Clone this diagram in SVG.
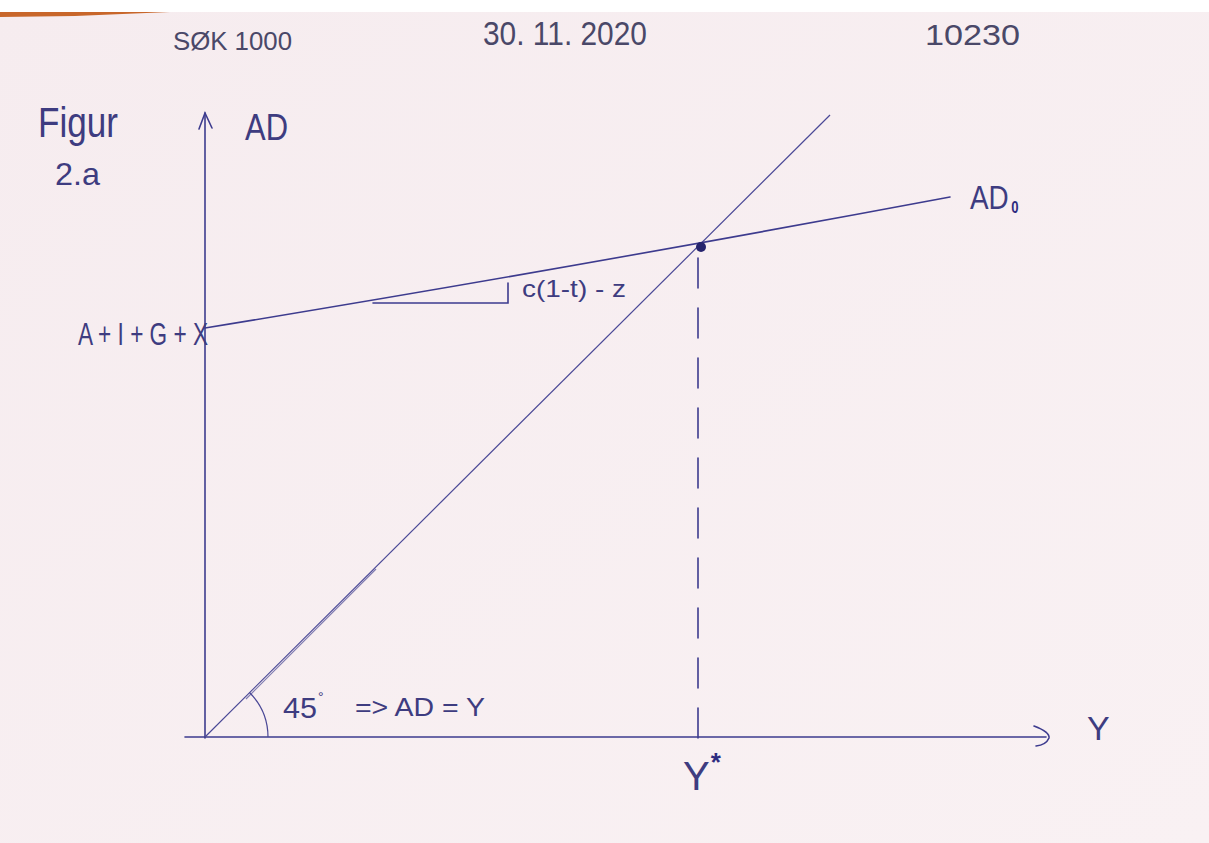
<svg xmlns="http://www.w3.org/2000/svg" width="1209" height="843" viewBox="0 0 1209 843">
<defs>
<linearGradient id="paper" x1="0" y1="0" x2="1" y2="1">
<stop offset="0" stop-color="#f6ecef"/>
<stop offset="1" stop-color="#f9f1f3"/>
</linearGradient>
</defs>
<style>
.pen{stroke:#3d3b8e;stroke-width:1.6;fill:none;stroke-linecap:round}
.thin{stroke:#4a4896;stroke-width:1.2;fill:none}
.lbl{font-family:"Liberation Sans",Arial,sans-serif;fill:#3e3c80}
.hdr{font-family:"Liberation Sans",Arial,sans-serif;fill:#4a4868}
</style>
<rect x="0" y="0" width="1209" height="843" fill="url(#paper)"/>
<rect x="0" y="0" width="1209" height="12" fill="#ffffff"/>
<path d="M0 12 L170 12 L75 16 L0 17 Z" fill="#c8662a"/>

<g id="header">
<text class="hdr" x="173" y="50" font-size="26" textLength="119" lengthAdjust="spacingAndGlyphs">SØK 1000</text>
<text class="hdr" x="483" y="45" font-size="34" textLength="164" lengthAdjust="spacingAndGlyphs">30. 11. 2020</text>
<text class="hdr" x="925" y="45" font-size="30" textLength="95" lengthAdjust="spacingAndGlyphs">10230</text>
</g>

<g id="title">
<text class="lbl" x="38" y="137" font-size="42" textLength="80" lengthAdjust="spacingAndGlyphs">Figur</text>
<text class="lbl" x="55" y="185" font-size="32" textLength="45" lengthAdjust="spacingAndGlyphs">2.a</text>
</g>

<g id="connectors">
<!-- axes -->
<line class="pen" x1="205" y1="113" x2="205" y2="738"/>
<polyline class="pen" points="199,129 205,113 212,128"/>
<line class="pen" x1="185" y1="737" x2="1046" y2="737"/>
<path class="pen" d="M1034 726 Q1050 732 1049 738 Q1046 745 1036 746"/>
<!-- 45 degree line -->
<line class="thin" x1="205" y1="737" x2="830" y2="115"/>
<line class="thin" x1="246" y1="699" x2="376" y2="569" stroke-opacity="0.7"/>
<!-- AD0 line -->
<path class="pen" d="M205 328 Q560 270 950 197"/>
<!-- slope triangle -->
<polyline class="pen" points="373,303 508,303 508,283"/>
<!-- dashed line to Y* -->
<line class="pen" x1="698" y1="258" x2="698" y2="741" stroke-dasharray="30,20"/>
<!-- 45 degree arc -->
<path class="thin" d="M249.5 692.5 A63 63 0 0 1 268 737"/>
<!-- equilibrium point -->
<circle cx="701" cy="247" r="5" fill="#26246e"/>
</g>

<g id="label-AD">
<text class="lbl" x="245" y="140" font-size="36" textLength="43" lengthAdjust="spacingAndGlyphs">AD</text>
</g>
<g id="label-AD0">
<text class="lbl" font-size="34" transform="translate(970,209) scale(0.82,1)">AD<tspan dx="3" dy="4" font-size="16" font-weight="bold" fill="#2e2c80">0</tspan></text>
</g>
<g id="label-intercept">
<text class="lbl" x="78" y="345" font-size="32" textLength="130" lengthAdjust="spacingAndGlyphs">A + I + G + X</text>
</g>
<g id="label-slope">
<text class="lbl" x="522" y="297" font-size="24" textLength="104" lengthAdjust="spacingAndGlyphs">c(1-t) - z</text>
</g>
<g id="label-45">
<text class="lbl" x="283" y="718" font-size="30" textLength="34" lengthAdjust="spacingAndGlyphs">45</text>
<text class="lbl" x="318" y="702" font-size="14">°</text>
<text class="lbl" x="355" y="716" font-size="26" textLength="130" lengthAdjust="spacingAndGlyphs">=&gt;  AD = Y</text>
</g>
<g id="label-Ystar">
<text class="lbl" x="683" y="790" font-size="40">Y<tspan dx="1" dy="-19" font-size="26" font-weight="bold" fill="#2e2c80">*</tspan></text>
</g>
<g id="label-Y">
<text class="lbl" x="1087" y="740" font-size="34">Y</text>
</g>
</svg>
